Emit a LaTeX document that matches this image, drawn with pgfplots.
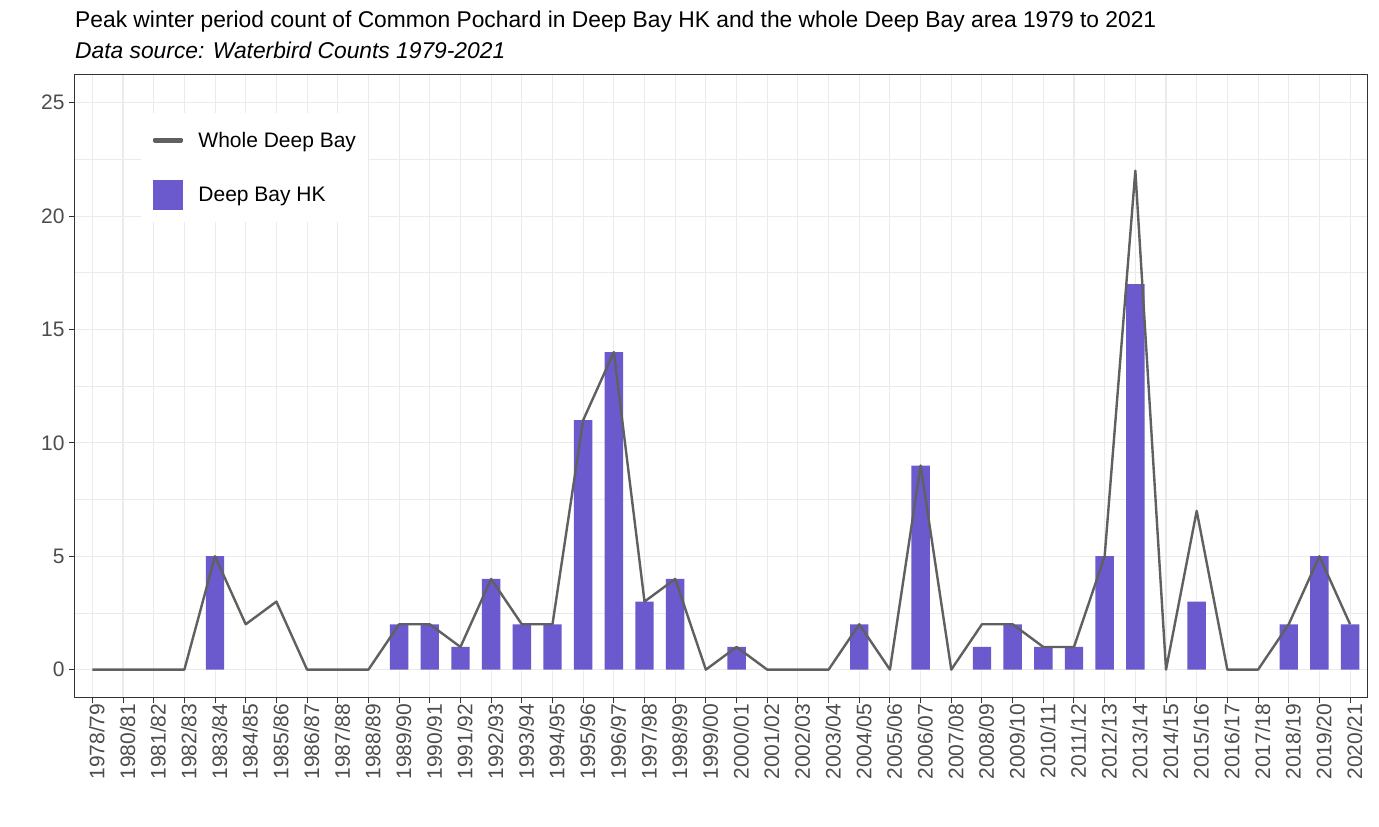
\documentclass[border=0pt]{standalone}
\usepackage{pgfplots}
\pgfplotsset{compat=1.18}
\usepackage{pgfplotstable}
\usepackage{fontspec}
\setmainfont{Liberation Sans}
\definecolor{barcol}{HTML}{6A5ACD}
\definecolor{linecol}{HTML}{606060}
\definecolor{gridcol}{HTML}{EBEBEB}
\definecolor{axcol}{HTML}{333333}
\definecolor{tickcol}{HTML}{4D4D4D}
\pgfplotstableread{
x y
0 0
1 0
2 0
3 0
4 5
5 2
6 3
7 0
8 0
9 0
10 2
11 2
12 1
13 4
14 2
15 2
16 11
17 14
18 3
19 4
20 0
21 1
22 0
23 0
24 0
25 2
26 0
27 9
28 0
29 2
30 2
31 1
32 1
33 5
34 22
35 0
36 7
37 0
38 0
39 2
40 5
41 2
}\wholedata
\pgfplotstableread{
x y
4 5
10 2
11 2
12 1
13 4
14 2
15 2
16 11
17 14
18 3
19 4
21 1
25 2
27 9
29 1
30 2
31 1
32 1
33 5
34 17
36 3
39 2
40 5
41 2
}\hkdata
\begin{document}
\begin{tikzpicture}[x=1pt,y=1pt]
\useasboundingbox[fill=white] (0,0) rectangle (1379,827);
\node[anchor=base west, inner sep=0pt, font=\fontsize{22.8}{26}\selectfont] at (75,799.7) {Peak winter period count of Common Pochard in Deep Bay HK and the whole Deep Bay area 1979 to 2021};
\node[anchor=base west, inner sep=0pt, font=\fontsize{22.8}{26}\selectfont\itshape] at (75,768.5) {Data source: Waterbird Counts 1979-2021};
\begin{axis}[
  at={(74.7pt,129pt)}, anchor=south west,
  scale only axis, width=1293pt, height=623.7pt,
  xmin=-0.575, xmax=41.575, ymin=-1.25, ymax=26.25,
  xtick={0,...,41},
  xticklabels={1978/79,1980/81,1981/82,1982/83,1983/84,1984/85,1985/86,1986/87,1987/88,1988/89,1989/90,1990/91,1991/92,1992/93,1993/94,1994/95,1995/96,1996/97,1997/98,1998/99,1999/00,2000/01,2001/02,2002/03,2003/04,2004/05,2005/06,2006/07,2007/08,2008/09,2009/10,2010/11,2011/12,2012/13,2013/14,2014/15,2015/16,2016/17,2017/18,2018/19,2019/20,2020/21},
  ytick={0,5,...,25},
  minor ytick={2.5,7.5,...,22.5},
  grid=both,
  major grid style={color=gridcol, line width=1.07pt},
  minor grid style={color=gridcol, line width=0.53pt},
  axis line style={color=axcol, line width=1pt},
  tick align=outside, xtick pos=left, ytick pos=left,
  major tick length=5.5pt, minor tick length=0pt,
  tick style={color=axcol, line width=1pt},
  /pgf/number format/assume math mode=true,
  ticklabel style={font=\fontsize{21}{25}\selectfont, text=tickcol},
  xticklabel style={rotate=90, anchor=east, inner sep=0pt, yshift=-4.5pt},
  yticklabel style={inner sep=0pt, xshift=-4.5pt},
  reverse legend,
  legend style={at={(0.0513,0.938)}, anchor=north west, draw=none, fill=white,
    inner sep=12pt, font=\fontsize{21}{25}\selectfont, column sep=15pt, row sep=25pt,
    nodes={inner sep=0pt}},
  legend cell align=left,
]
\addplot[ybar, bar width=0.6, fill=barcol, draw=none,
  legend image code/.code={\fill[barcol] (0pt,-15pt) rectangle (30pt,15pt);}] table[x=x,y=y] {\hkdata};
\addlegendentry{Deep Bay HK}
\addplot[color=linecol, line width=2.4pt, line join=round, mark=none,
  legend image code/.code={\path[draw=none,fill=none] (0pt,-15pt) rectangle (30pt,15pt); \fill[linecol] (1pt,-1.25pt) rectangle (28pt,1.25pt);}] table[x=x,y=y] {\wholedata};
\addlegendentry{Whole Deep Bay}
\end{axis}
\end{tikzpicture}
\end{document}
